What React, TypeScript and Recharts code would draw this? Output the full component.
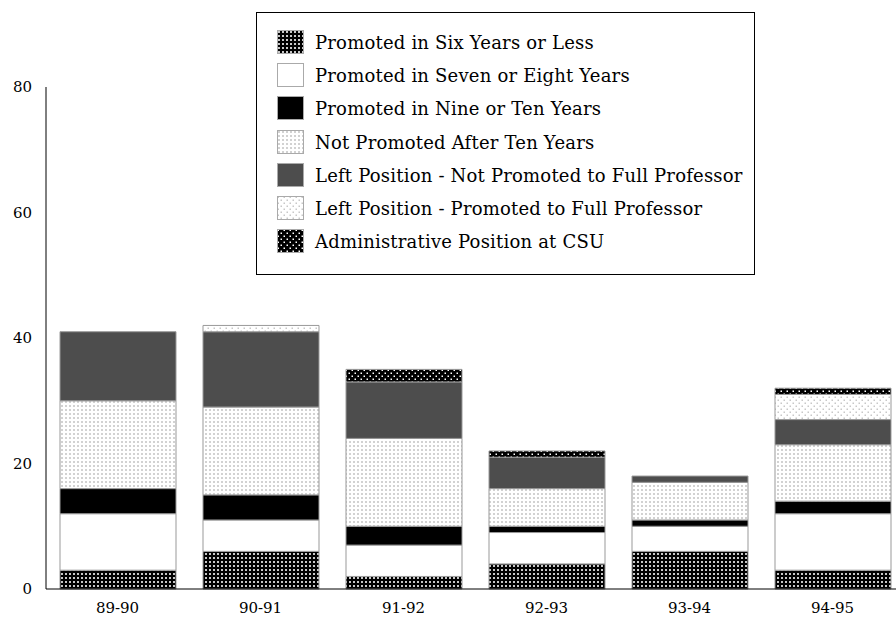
import { BarChart, Bar, XAxis, YAxis } from "recharts";

// 年度
const years = ["89-90", "90-91", "91-92", "92-93", "93-94", "94-95"];

// 各カテゴリの人数（下から積み上げ）
const sixOrLess = [3, 6, 2, 4, 6, 3];
const sevenOrEight = [9, 5, 5, 5, 4, 9];
const nineOrTen = [4, 4, 3, 1, 1, 2];
const notPromoted = [14, 14, 14, 6, 6, 9];
const leftNotPromoted = [11, 12, 9, 5, 1, 4];
const leftPromoted = [0, 1, 0, 0, 0, 4];
const adminCsu = [0, 0, 2, 1, 0, 1];

const yTicks = [0, 20, 40, 60, 80];

const FONT = "'DejaVu Serif', serif";

// シリーズ定義（凡例の順 = 積み上げ順）
const series = [
  { key: "six", name: "Promoted in Six Years or Less", fill: "url(#pSix)" },
  { key: "seven", name: "Promoted in Seven or Eight Years", fill: "#ffffff" },
  { key: "nine", name: "Promoted in Nine or Ten Years", fill: "#000000" },
  { key: "notProm", name: "Not Promoted After Ten Years", fill: "url(#pNotProm)" },
  { key: "leftNot", name: "Left Position - Not Promoted to Full Professor", fill: "#4d4d4d" },
  { key: "leftProm", name: "Left Position - Promoted to Full Professor", fill: "url(#pLeftProm)" },
  { key: "admin", name: "Administrative Position at CSU", fill: "url(#pAdmin)" },
];

const chartData = years.map((y, i) => ({
  year: y,
  six: sixOrLess[i],
  seven: sevenOrEight[i],
  nine: nineOrTen[i],
  notProm: notPromoted[i],
  leftNot: leftNotPromoted[i],
  leftProm: leftPromoted[i],
  admin: adminCsu[i],
}));

// パターン定義（グラフと凡例で共有）
function PatternDefs() {
  return (
    <svg width={0} height={0} style={{ position: "absolute" }}>
      <defs>
        <pattern id="pSix" width={4} height={4} patternUnits="userSpaceOnUse">
          <rect width={4} height={4} fill="#000" />
          <rect x={1} y={1} width={2} height={2} fill="#c8c8c8" />
        </pattern>
        <pattern id="pNotProm" width={4} height={4} patternUnits="userSpaceOnUse">
          <rect width={4} height={4} fill="#fff" />
          <rect x={1} y={1} width={2} height={2} fill="#d2d2d2" />
        </pattern>
        <pattern id="pLeftProm" width={6} height={6} patternUnits="userSpaceOnUse">
          <rect width={6} height={6} fill="#fff" />
          <rect x={0.5} y={0.5} width={1.5} height={1.5} fill="#c8c8c8" />
          <rect x={3.5} y={3.5} width={1.5} height={1.5} fill="#c8c8c8" />
        </pattern>
        <pattern id="pAdmin" width={6} height={6} patternUnits="userSpaceOnUse">
          <rect width={6} height={6} fill="#000" />
          <rect x={0.5} y={0.5} width={1.5} height={1.5} fill="#fff" />
          <rect x={3.5} y={3.5} width={1.5} height={1.5} fill="#fff" />
        </pattern>
      </defs>
    </svg>
  );
}

function LegendBox() {
  return (
    <div
      style={{
        position: "absolute",
        left: 256,
        top: 12,
        width: 499,
        height: 263,
        border: "1.5px solid #000",
        background: "#fff",
        boxSizing: "border-box",
        paddingTop: 13,
        paddingLeft: 20,
        fontFamily: FONT,
        fontSize: 18,
        letterSpacing: 0.2,
        color: "#000",
      }}
    >
      {series.map((s) => (
        <div
          key={s.key}
          style={{ display: "flex", alignItems: "center", height: 33.2 }}
        >
          <svg width={28} height={25} style={{ marginRight: 10 }}>
            <rect
              x={0.5}
              y={0.5}
              width={26}
              height={23}
              fill={s.fill}
              stroke="#aaa"
              strokeWidth={1}
            />
          </svg>
          <span style={{ whiteSpace: "nowrap" }}>{s.name}</span>
        </div>
      ))}
    </div>
  );
}

export default function App() {
  return (
    <div
      style={{
        position: "absolute",
        left: 0,
        top: 0,
        width: 910,
        height: 618,
        background: "#fff",
      }}
    >
      <PatternDefs />
      <BarChart
        width={910}
        height={618}
        data={chartData}
        barSize={116}
        margin={{ top: 87, right: 6, left: 0, bottom: 0 }}
      >
        <XAxis
          dataKey="year"
          height={29}
          axisLine={{ stroke: "#000" }}
          tickLine={false}
          tickMargin={7}
          tick={{ fontSize: 15, fill: "#000", fontFamily: FONT }}
        />
        <YAxis
          width={46}
          domain={[0, 80]}
          ticks={yTicks}
          axisLine={{ stroke: "#000" }}
          tickLine={false}
          tickMargin={8}
          tick={{ fontSize: 15, fill: "#000", fontFamily: FONT }}
        />
        {series.map((s) => (
          <Bar
            key={s.key}
            dataKey={s.key}
            name={s.name}
            stackId="a"
            fill={s.fill}
            stroke="#999"
            strokeWidth={1}
            isAnimationActive={false}
          />
        ))}
      </BarChart>
      <LegendBox />
    </div>
  );
}
